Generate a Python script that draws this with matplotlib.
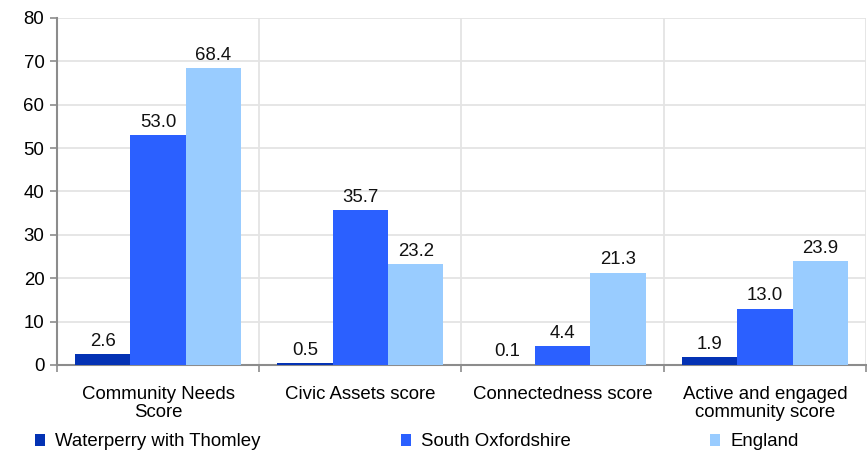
import matplotlib
matplotlib.use("Agg")
import matplotlib.pyplot as plt
import numpy as np
from matplotlib.patches import Patch

plt.rcParams["font.family"] = ["Liberation Sans", "DejaVu Sans"]

categories = ["Community Needs\nScore", "Civic Assets score",
              "Connectedness score", "Active and engaged\ncommunity score"]
series_names = ["Waterperry with Thomley", "South Oxfordshire", "England"]
waterperry = [2.6, 0.5, 0.1, 1.9]
south_oxon = [53.0, 35.7, 4.4, 13.0]
england = [68.4, 23.2, 21.3, 23.9]
y_ticks = [0, 10, 20, 30, 40, 50, 60, 70, 80]

COLORS = ["#0432B4", "#2B60FF", "#99CCFF"]
GRID = "#E4E4E4"
AXIS = "#8C8C8C"
BAR_W = 0.274
FS = 13.4

fig = plt.figure(figsize=(8.67, 4.51), dpi=100)
ax = fig.add_axes([0.0657, 0.1907, 0.9331, 0.7694])

x = np.arange(len(categories))
for i, (vals, col) in enumerate(zip([waterperry, south_oxon, england], COLORS)):
    xs = x + (i - 1) * BAR_W
    ax.bar(xs, vals, width=BAR_W, color=col, zorder=3, linewidth=0)
    for xi, v in zip(xs, vals):
        ax.annotate(f"{v:.1f}", (xi, v), xytext=(0, 3), textcoords="offset points",
                    ha="center", va="bottom", fontsize=FS, color="#111111", zorder=4)

ax.set_xlim(-0.5, len(categories) - 0.5)
ax.set_ylim(0, 80)
ax.set_yticks(y_ticks)
ax.tick_params(axis="y", labelsize=FS, length=5, width=1.2, color=AXIS, pad=4)

ax.set_xticks(x)
ax.set_xticklabels(categories, fontsize=FS, linespacing=1.12)
ax.tick_params(axis="x", which="major", length=0, pad=15)
ax.set_xticks(np.arange(-0.5, len(categories)), minor=True)
ax.tick_params(axis="x", which="minor", length=5, width=1.2, color=AXIS)

ax.grid(axis="y", color=GRID, linewidth=1.3, zorder=0)
ax.grid(axis="x", which="minor", color=GRID, linewidth=1.3, zorder=0)

for s in ["top", "right"]:
    ax.spines[s].set_visible(False)
for s in ["left", "bottom"]:
    ax.spines[s].set_color(AXIS)
    ax.spines[s].set_linewidth(1.5)

# legend entries placed individually, as in the original layout
legend_x = [0.0404, 0.4625, 0.819]
for name, col, lx in zip(series_names, COLORS, legend_x):
    fig.legend(handles=[Patch(facecolor=col, edgecolor="none")], labels=[name],
               loc="center left", bbox_to_anchor=(lx, 0.02), frameon=False,
               fontsize=FS, handlelength=0.55, handleheight=0.55,
               handletextpad=0.55, borderaxespad=0, borderpad=0)

fig.savefig("out.png", dpi=100)
